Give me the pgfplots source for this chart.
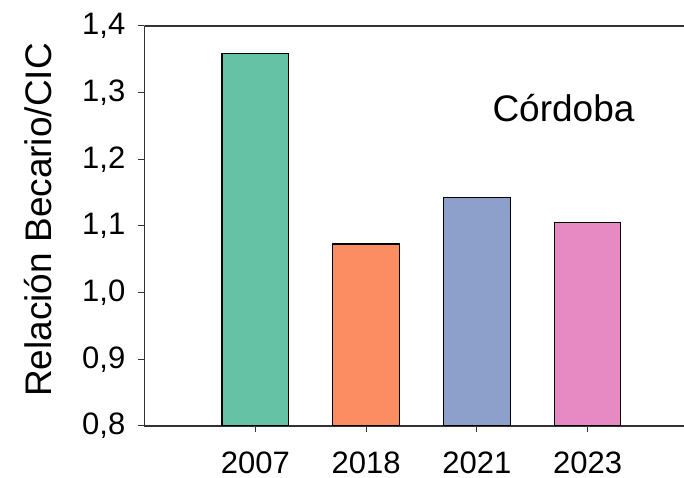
\documentclass[border=0pt]{standalone}
\usepackage{fontspec}
\setmainfont{Liberation Sans}
\usepackage{pgfplots}
\pgfplotsset{compat=1.18}
\definecolor{cA}{HTML}{66C2A5}
\definecolor{cB}{HTML}{FC8D62}
\definecolor{cC}{HTML}{8DA0CB}
\definecolor{cD}{HTML}{E78AC3}
\begin{document}
\begin{tikzpicture}
\begin{axis}[
  at={(0pt,0pt)}, anchor=south west,
  scale only axis,
  width=539.5pt, height=400pt,
  xmin=-1, xmax=3.87,
  ymin=0.8, ymax=1.4,
  axis x line*=bottom, axis y line*=left,
  axis line style={black!80, line width=1.1pt},
  xtick={0,1,2,3},
  xticklabels={2007,2018,2021,2023},
  ytick={0.8,0.9,1.0,1.1,1.2,1.3,1.4},
  /pgf/number format/fixed,
  /pgf/number format/fixed zerofill,
  /pgf/number format/precision=1,
  /pgf/number format/use comma,
  /pgf/number format/assume math mode=true,
  tick align=outside,
  major tick length=6pt,
  tick style={black!80, line width=1pt},
  ticklabel style={font=\fontsize{31}{37}\selectfont},
  yticklabel style={anchor=east, inner sep=0pt, xshift=-13pt},
  xticklabel style={anchor=base, inner sep=0pt, yshift=-41pt},
  ylabel={Relación Becario/CIC},
  ylabel style={at={(axis description cs:-0.1715,0.515)}, anchor=base, font=\fontsize{37}{44}\selectfont},
  ybar, bar width=0.6, bar shift=0pt,
]
\addplot[fill=cA, draw=black, line width=1.1pt] coordinates {(0,1.359)};
\addplot[fill=cB, draw=black, line width=1.1pt] coordinates {(1,1.073)};
\addplot[fill=cC, draw=black, line width=1.1pt] coordinates {(2,1.143)};
\addplot[fill=cD, draw=black, line width=1.1pt] coordinates {(3,1.105)};
\draw[black!80, line width=1.1pt] (rel axis cs:0,1) -- (rel axis cs:1,1);
\node[anchor=base, font=\fontsize{37}{44}\selectfont, inner sep=0pt] at (rel axis cs:0.7766,0.761) {Córdoba};
\end{axis}
\pgfresetboundingbox
\path (-144.5pt,-52pt) rectangle (539.5pt,426pt);
\end{tikzpicture}
\end{document}
